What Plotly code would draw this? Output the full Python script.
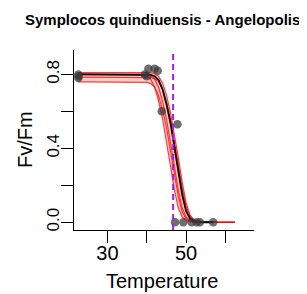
import plotly.graph_objects as go

# Observed points
pt_x = [22.6, 22.6, 22.6, 39.5, 40.0, 40.4, 42.0, 42.8, 43.8, 47.8, 47.2, 49.3, 51.4, 52.7, 53.5, 56.9]
pt_y = [0.80, 0.79, 0.78, 0.80, 0.79, 0.83, 0.83, 0.82, 0.60, 0.53, 0.0, 0.0, 0.0, 0.0, 0.0, 0.0]

# Fitted curve (black)
fit_x = [22.6, 38, 40, 41, 42, 43, 44, 45, 46, 47, 48, 49, 50, 51, 52, 54, 57]
fit_y = [0.80, 0.80, 0.80, 0.797, 0.79, 0.77, 0.72, 0.64, 0.54, 0.42, 0.28, 0.15, 0.06, 0.02, 0.005, 0.0, 0.0]

# Resampled curves (red)
rx = [22.6, 38, 40, 41, 42, 43, 44, 45, 46, 47, 48, 49, 50, 51, 52, 54, 62.4]
red_a = [0.80, 0.80, 0.79, 0.774, 0.73, 0.656, 0.56, 0.444, 0.308, 0.176, 0.078, 0.028, 0.008, 0.002, 0.0, 0.0, 0.0]
red_b = [0.76, 0.76, 0.757, 0.75, 0.73, 0.684, 0.608, 0.513, 0.40, 0.266, 0.143, 0.057, 0.019, 0.005, 0.0, 0.0, 0.0]
red_c = [0.785, 0.785, 0.785, 0.783, 0.777, 0.761, 0.721, 0.651, 0.559, 0.447, 0.316, 0.185, 0.085, 0.031, 0.01, 0.0, 0.0]
red_d = [0.81, 0.81, 0.81, 0.81, 0.804, 0.79, 0.754, 0.689, 0.597, 0.486, 0.354, 0.218, 0.106, 0.04, 0.012, 0.0, 0.0]
red_e = [0.80, 0.80, 0.797, 0.792, 0.774, 0.73, 0.656, 0.56, 0.444, 0.308, 0.176, 0.078, 0.028, 0.008, 0.002, 0.0, 0.0]

t50 = 46.7

x_ticks = [30, 50]
x_minor = [40, 60]
y_ticks = [0.0, 0.4, 0.8]
y_ticklabels = ["0.0", "0.4", "0.8"]
y_minor = [0.2, 0.6]

title = "Symplocos quindiuensis - Angelopolis"
xlab = "Temperature"
ylab = "Fv/Fm"

reds = [red_a, red_b, red_c, red_d, red_e]
band_hi = [max(v) for v in zip(*reds)]
band_lo = [min(v) for v in zip(*reds)]

FONT = "Liberation Sans, Arial, sans-serif"

fig = go.Figure()
fig.add_trace(go.Scatter(x=rx, y=band_lo, mode="lines", line=dict(width=0),
                         hoverinfo="skip", showlegend=False))
fig.add_trace(go.Scatter(x=rx, y=band_hi, mode="lines", line=dict(width=0),
                         fill="tonexty", fillcolor="rgba(255,0,0,0.2)",
                         hoverinfo="skip", showlegend=False))
for r in reds:
    fig.add_trace(go.Scatter(x=rx, y=r, mode="lines",
                             line=dict(color="rgba(255,0,0,0.75)", width=1.2),
                             showlegend=False))
fig.add_trace(go.Scatter(x=fit_x, y=fit_y, mode="lines",
                         line=dict(color="black", width=1.8), showlegend=False))
fig.add_trace(go.Scatter(x=pt_x, y=pt_y, mode="markers",
                         marker=dict(color="rgba(55,55,55,0.72)", size=8.5, line=dict(width=0)),
                         showlegend=False))

fig.add_shape(type="line", x0=t50, x1=t50, y0=0, y1=1, xref="x", yref="paper",
              line=dict(color="#A020F0", width=2, dash="6px,4px"), layer="above")

fig.update_layout(
    width=307, height=294,
    margin=dict(l=66, r=61, t=42, b=72, autoexpand=False),
    plot_bgcolor="white", paper_bgcolor="white",
    font=dict(family=FONT, color="black"),
    xaxis=dict(range=[21.48, 67.28], showgrid=False, zeroline=False,
               showline=True, linecolor="black", linewidth=1.3,
               ticks="outside", ticklen=12, tickwidth=1.3, tickcolor="black",
               tickmode="array", tickvals=x_ticks, ticktext=[str(v) for v in x_ticks],
               ticklabelstandoff=-7,
               tickfont=dict(size=20, family=FONT, color="black"),
               minor=dict(tickmode="array", tickvals=x_minor, ticks="outside",
                          ticklen=12, tickwidth=1.3, tickcolor="black", showgrid=False)),
    yaxis=dict(range=[-0.042, 0.932], showgrid=False, zeroline=False,
               showline=True, linecolor="black", linewidth=1.3,
               ticks="outside", ticklen=12, tickwidth=1.3, tickcolor="black",
               tickmode="array", tickvals=y_ticks, ticktext=y_ticklabels,
               tickangle=-90, ticklabelstandoff=-5,
               tickfont=dict(size=17, family=FONT, color="black"),
               minor=dict(tickmode="array", tickvals=y_minor, ticks="outside",
                          ticklen=12, tickwidth=1.3, tickcolor="black", showgrid=False)),
    annotations=[
        dict(text="<b>" + title + "</b>", x=0.489, y=1.172, xref="paper", yref="paper",
             showarrow=False, xanchor="center", yanchor="middle",
             font=dict(size=15, family=FONT, color="black")),
        dict(text=xlab, x=0.489, y=-0.283, xref="paper", yref="paper",
             showarrow=False, xanchor="center", yanchor="middle",
             font=dict(size=20, family=FONT, color="black")),
        dict(text=ylab, x=-0.272, y=0.5, xref="paper", yref="paper",
             showarrow=False, xanchor="center", yanchor="middle", textangle=-90,
             font=dict(size=20, family=FONT, color="black")),
    ],
)

fig.write_html("out.html")
